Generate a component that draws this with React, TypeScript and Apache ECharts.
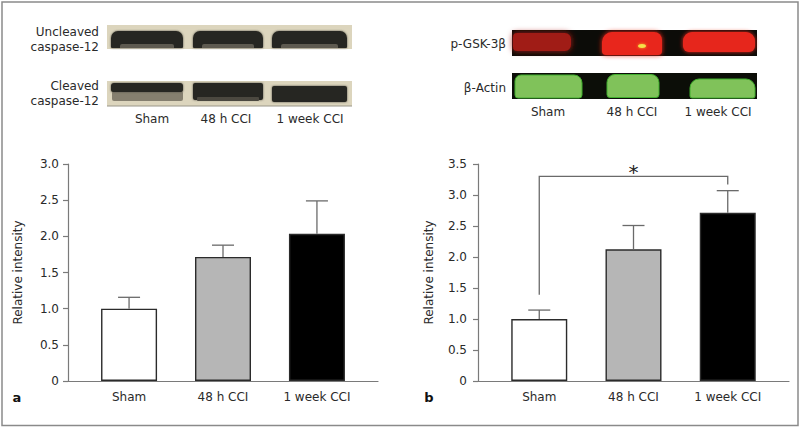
import React, { useEffect, useRef } from "react";
import * as echarts from "echarts";

const categories = ["Sham", "48 h CCI", "1 week CCI"];
const meansA = [1.0, 1.715, 2.035];
const upperA = [1.157, 1.878, 2.49];
const meansB = [1.0, 2.125, 2.713];
const upperB = [1.144, 2.508, 3.07];
const barColors = ["#ffffff", "#b6b6b6", "#000000"];
const yMaxA = 3.0;
const yMaxB = 3.5;
const yInterval = 0.5;
// significance bracket in panel b: [fromIndex, toIndex, leftEnd, rightEnd, top]
const sigBracket = [[0, 2, 1.39, 3.17, 3.3]];
const sigLabel = "*";
const blotLabelsA = [["Uncleaved", "caspase-12"], ["Cleaved", "caspase-12"]];
const blotLabelsB = ["p-GSK-3β", "β-Actin"];

const FONT = "'DejaVu Sans', 'Open Sans', sans-serif";
const AXIS_COLOR = "#7a7a7a";
const TEXT_COLOR = "#2a2a2a";
const FS = 12;

function tickFmt(v: number) {
  return v === 0 ? "0" : v.toFixed(1);
}

function barSeries(means: number[], idx: number) {
  return {
    type: "bar",
    xAxisIndex: idx,
    yAxisIndex: idx,
    barWidth: 56,
    data: means.map((m, i) => ({
      value: [i, m],
      itemStyle: { color: barColors[i], borderColor: "#2b2b2b", borderWidth: 1.4 },
    })),
  };
}

function errSeries(means: number[], uppers: number[], idx: number) {
  return {
    type: "custom",
    xAxisIndex: idx,
    yAxisIndex: idx,
    z: 5,
    data: means.map((m, i) => [i, m, uppers[i]]),
    renderItem: (params: any, api: any) => {
      const x = api.value(0);
      const p0 = api.coord([x, api.value(1)]);
      const p1 = api.coord([x, api.value(2)]);
      const half = 11;
      const st = { stroke: "#6a6a6a", lineWidth: 1.3 };
      return {
        type: "group",
        children: [
          { type: "line", shape: { x1: p0[0], y1: p0[1], x2: p1[0], y2: p1[1] }, style: st },
          { type: "line", shape: { x1: p1[0] - half, y1: p1[1], x2: p1[0] + half, y2: p1[1] }, style: st },
        ],
      };
    },
  };
}

function xAxisCfg(idx: number) {
  return {
    type: "value",
    gridIndex: idx,
    min: -0.65,
    max: 2.65,
    splitLine: { show: false },
    axisTick: { show: false },
    axisLine: { show: true, onZero: false, lineStyle: { color: AXIS_COLOR, width: 1.2 } },
    axisLabel: {
      customValues: [0, 1, 2],
      formatter: (v: number) => categories[Math.round(v)] ?? "",
      color: TEXT_COLOR,
      fontSize: FS,
      fontFamily: FONT,
      margin: 10,
    },
  };
}

function yAxisCfg(idx: number, max: number, margin: number, nameGap: number) {
  return {
    type: "value",
    gridIndex: idx,
    min: 0,
    max,
    interval: yInterval,
    name: "Relative intensity",
    nameLocation: "middle",
    nameGap,
    nameTextStyle: { color: TEXT_COLOR, fontSize: FS, fontFamily: FONT },
    splitLine: { show: false },
    axisLine: { show: true, onZero: false, lineStyle: { color: AXIS_COLOR, width: 1.2 } },
    axisTick: { show: true, length: 5, lineStyle: { color: AXIS_COLOR, width: 1.2 } },
    axisLabel: { formatter: tickFmt, color: TEXT_COLOR, fontSize: FS, fontFamily: FONT, margin },
  };
}

function txt(text: string, x: number, y: number, align: string, extra: any = {}) {
  return {
    type: "text",
    x,
    y,
    style: {
      text,
      align,
      verticalAlign: "middle",
      fill: TEXT_COLOR,
      fontSize: FS,
      fontFamily: FONT,
      lineHeight: 14,
      ...extra,
    },
  };
}

function rr(x: number, y: number, w: number, h: number, fill: string, r: any = 0, extra: any = {}) {
  return { type: "rect", shape: { x, y, width: w, height: h, r }, style: { fill, ...extra } };
}

function blotGraphics() {
  const g: any[] = [];
  // frame
  g.push({ type: "rect", shape: { x: 2, y: 2, width: 796, height: 423.5 }, style: { fill: "none", stroke: "#8a8a8a", lineWidth: 1.5 } });
  // Panel a blots
  const bg = "#dcd5bd";
  const dark = "#262521";
  const glow = { shadowBlur: 2, shadowColor: "#55524a" };
  g.push(rr(107, 25, 245, 24, bg));
  const lanesA = [[111, 72], [193, 70], [272, 75]];
  lanesA.forEach(([x, w]) => {
    g.push(rr(x, 31, w, 17, dark, [7, 7, 1, 1], glow));
    g.push(rr(x + 9, 44, w - 18, 4, "#5e5a50", [2, 2, 0, 0]));
  });
  g.push(rr(107, 81, 245, 25, bg));
  g.push({ type: "line", shape: { x1: 107, y1: 106, x2: 352, y2: 106 }, style: { stroke: "#9a9688", lineWidth: 1 } });
  g.push(rr(112, 91, 71, 10, "#857f6f", 2));
  g.push(rr(111, 83, 72, 9, dark, [3, 3, 2, 2], glow));
  g.push(rr(193, 83, 70, 17, dark, 2, glow));
  g.push(rr(197, 97, 62, 4, "#4b4840", 1));
  g.push(rr(272, 86, 75, 16, dark, 2, glow));
  g.push(txt(blotLabelsA[0][0], 99, 31.5, "right"));
  g.push(txt(blotLabelsA[0][1], 99, 46.5, "right"));
  g.push(txt(blotLabelsA[1][0], 99, 86, "right"));
  g.push(txt(blotLabelsA[1][1], 99, 101, "right"));
  g.push(txt(categories[0], 152, 119, "center"));
  g.push(txt(categories[1], 226, 119, "center"));
  g.push(txt(categories[2], 310, 119, "center"));

  // Panel b blots
  g.push(rr(512, 30, 245, 26, "#0c0c08"));
  g.push(rr(513, 33, 58, 18, "#a01a12", [4, 6, 6, 4], { shadowBlur: 6, shadowColor: "#a01a12" }));
  g.push(rr(602, 32, 60, 23, "#e8281c", [10, 8, 4, 4], { shadowBlur: 5, shadowColor: "#e8281c" }));
  g.push({ type: "ellipse", shape: { cx: 642, cy: 46, rx: 4, ry: 2 }, style: { fill: "#f5e04a", shadowBlur: 3, shadowColor: "#ffb020" } });
  g.push(rr(683, 32, 72, 20, "#e6281c", [9, 9, 6, 6], { shadowBlur: 4, shadowColor: "#e6281c" }));
  g.push(rr(512, 73, 245, 26, "#0c0e08"));
  g.push(rr(515, 75, 67, 23, "#80c25a", [6, 8, 3, 3], { stroke: "#3fae2c", lineWidth: 1 }));
  g.push(rr(607, 74.5, 52, 23, "#80c25a", [8, 8, 3, 3], { stroke: "#3fae2c", lineWidth: 1 }));
  g.push(rr(690, 79, 65, 19, "#80c25a", [9, 9, 2, 2], { stroke: "#3fae2c", lineWidth: 1 }));
  g.push(txt(blotLabelsB[0], 506, 43.5, "right"));
  g.push(txt(blotLabelsB[1], 506, 87.5, "right"));
  g.push(txt(categories[0], 548, 112, "center"));
  g.push(txt(categories[1], 632, 112, "center"));
  g.push(txt(categories[2], 718, 112, "center"));

  // panel letters
  g.push(txt("a", 17, 397, "center", { fontWeight: "bold", fontSize: 13, fill: "#111" }));
  g.push(txt("b", 429, 397, "center", { fontWeight: "bold", fontSize: 13, fill: "#111" }));
  return g;
}

export default function App() {
  const ref = useRef<HTMLDivElement>(null);
  useEffect(() => {
    document.body.style.margin = "0";
    if (!ref.current) return;
    const chart = echarts.init(ref.current, undefined, { renderer: "svg" });
    chart.setOption({
      animation: false,
      backgroundColor: "#ffffff",
      grid: [
        { left: 68, right: 422, top: 164, bottom: 47, containLabel: false },
        { left: 478, right: 11, top: 164, bottom: 47, containLabel: false },
      ],
      xAxis: [xAxisCfg(0), xAxisCfg(1)],
      yAxis: [yAxisCfg(0, yMaxA, 9, 44), yAxisCfg(1, yMaxB, 11, 43)],
      series: [
        barSeries(meansA, 0),
        errSeries(meansA, upperA, 0),
        barSeries(meansB, 1),
        errSeries(meansB, upperB, 1),
        {
          type: "custom",
          xAxisIndex: 1,
          yAxisIndex: 1,
          z: 6,
          data: sigBracket,
          renderItem: (params: any, api: any) => {
            const a = api.value(0), b = api.value(1);
            const pL = api.coord([a, api.value(2)]);
            const pLT = api.coord([a, api.value(4)]);
            const pRT = api.coord([b, api.value(4)]);
            const pR = api.coord([b, api.value(3)]);
            return {
              type: "group",
              children: [
                {
                  type: "polyline",
                  shape: { points: [pL, pLT, pRT, pR] },
                  style: { stroke: "#6a6a6a", lineWidth: 1.3, fill: "none" },
                },
                {
                  type: "text",
                  x: (pLT[0] + pRT[0]) / 2,
                  y: pLT[1] + 6,
                  style: {
                    text: sigLabel,
                    align: "center",
                    verticalAlign: "bottom",
                    fontSize: 20,
                    fontFamily: FONT,
                    fill: "#222",
                  },
                },
              ],
            };
          },
        },
      ],
      graphic: { elements: blotGraphics() },
    });
    return () => chart.dispose();
  }, []);
  return <div ref={ref} style={{ width: 800, height: 428 }} />;
}
